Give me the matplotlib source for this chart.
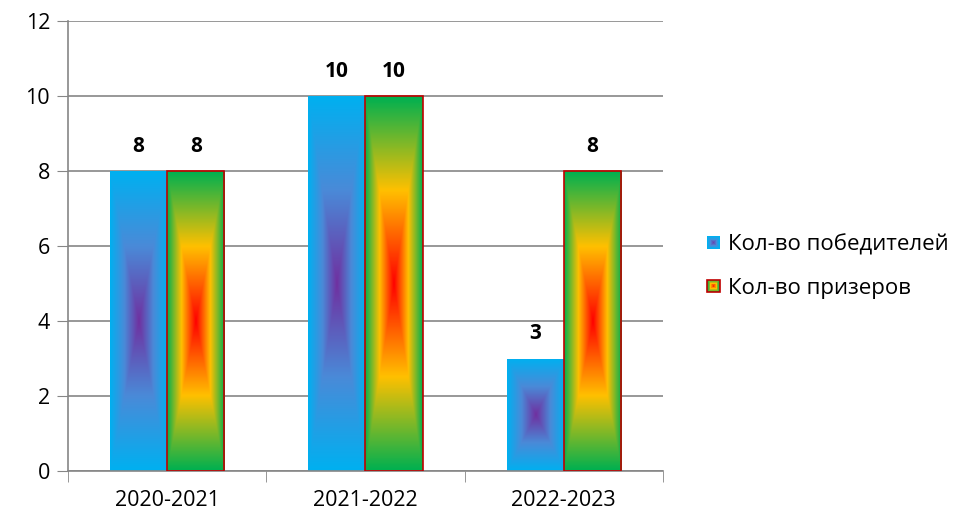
import numpy as np
import matplotlib
matplotlib.use("Agg")
import matplotlib.pyplot as plt
from matplotlib.colors import LinearSegmentedColormap
from matplotlib.patches import Rectangle
from matplotlib.legend_handler import HandlerBase

plt.rcParams['font.family'] = ['Open Sans', 'DejaVu Sans']

years = ['2020-2021', '2021-2022', '2022-2023']
winners = [8, 10, 3]
prizers = [8, 10, 8]
series_names = ['Кол-во победителей', 'Кол-во призеров']

cmap_win = LinearSegmentedColormap.from_list('win', ['#00B0F0', '#4A8AD8', '#7030A0'])
cmap_prz = LinearSegmentedColormap.from_list('prz', [(0, '#00B050'), (0.5, '#FFC000'), (1, '#FF0000')])


def rect_gradient(n=200):
    u = np.linspace(-1, 1, n)
    uu, vv = np.meshgrid(u, u)
    return 1 - np.maximum(np.abs(uu), np.abs(vv))


grad = rect_gradient()


def fill_bars(ax, bars, cmap):
    for b in bars:
        x0, w, h = b.get_x(), b.get_width(), b.get_height()
        im = ax.imshow(grad, cmap=cmap, vmin=0, vmax=1, extent=[x0, x0 + w, 0, h],
                       aspect='auto', zorder=2, interpolation='bilinear')
        im.set_clip_path(b)


class GradHandler(HandlerBase):
    def __init__(self, cmap, edge):
        super().__init__()
        self.cmap = cmap
        self.edge = edge

    def create_artists(self, legend, orig_handle, xdescent, ydescent, width, height, fontsize, trans):
        s = 9
        x0 = width - s
        y0 = (height - s) / 2
        arts = []
        steps = 8
        for i in range(steps):
            f = i / steps
            sz = s * (1 - f)
            r = Rectangle((x0 + (s - sz) / 2, y0 + (s - sz) / 2), sz, sz,
                          facecolor=self.cmap(f), edgecolor='none', transform=trans)
            arts.append(r)
        if self.edge:
            arts.append(Rectangle((x0, y0), s, s, facecolor='none', edgecolor=self.edge,
                                  lw=1.2, transform=trans))
        return arts


fig = plt.figure(figsize=(9.61, 5.17), dpi=100)
ax = fig.add_axes([0.0708, 0.089, 0.619, 0.870])

x = np.arange(len(years))
w = 0.288
b1 = ax.bar(x - w / 2, winners, w, color='none', edgecolor='none', zorder=2)
b2 = ax.bar(x + w / 2, prizers, w, color='none', edgecolor='#C00000', lw=1.2, zorder=3)
fill_bars(ax, b1, cmap_win)
fill_bars(ax, b2, cmap_prz)
for b in list(b1) + list(b2):
    ax.text(b.get_x() + b.get_width() / 2, b.get_height() + 0.38, str(int(b.get_height())),
            ha='center', va='bottom', fontsize=15, fontweight='bold', zorder=4)

ax.set_xlim(-0.5, 2.5)
ax.set_ylim(0, 12)
ax.set_yticks(range(0, 13, 2))
ax.set_xticks(x)
ax.set_xticklabels(years)
ax.set_xticks([-0.5, 0.5, 1.5, 2.5], minor=True)
ax.tick_params(axis='x', which='major', length=0, labelsize=15.5, pad=14)
ax.tick_params(axis='x', which='minor', length=8, color='#868686', direction='out')
ax.tick_params(axis='y', length=8, color='#868686', labelsize=15.5, pad=5)
ax.grid(axis='y', color='#868686', lw=1.2, zorder=0)
ax.set_axisbelow(True)
for side in ['top', 'right']:
    ax.spines[side].set_visible(False)
for side in ['left', 'bottom']:
    ax.spines[side].set_color('#868686')
    ax.spines[side].set_linewidth(1.2)

h1 = Rectangle((0, 0), 1, 1)
h2 = Rectangle((0, 0), 1, 1)
ax.legend([h1, h2], series_names, loc='center left', bbox_to_anchor=(1.075, 0.455),
          frameon=False, fontsize=16, labelspacing=1.0, handlelength=0.55, handletextpad=0.35,
          borderpad=0, borderaxespad=0,
          handler_map={h1: GradHandler(cmap_win, None), h2: GradHandler(cmap_prz, '#C00000')})

fig.savefig('out.png', dpi=100)
